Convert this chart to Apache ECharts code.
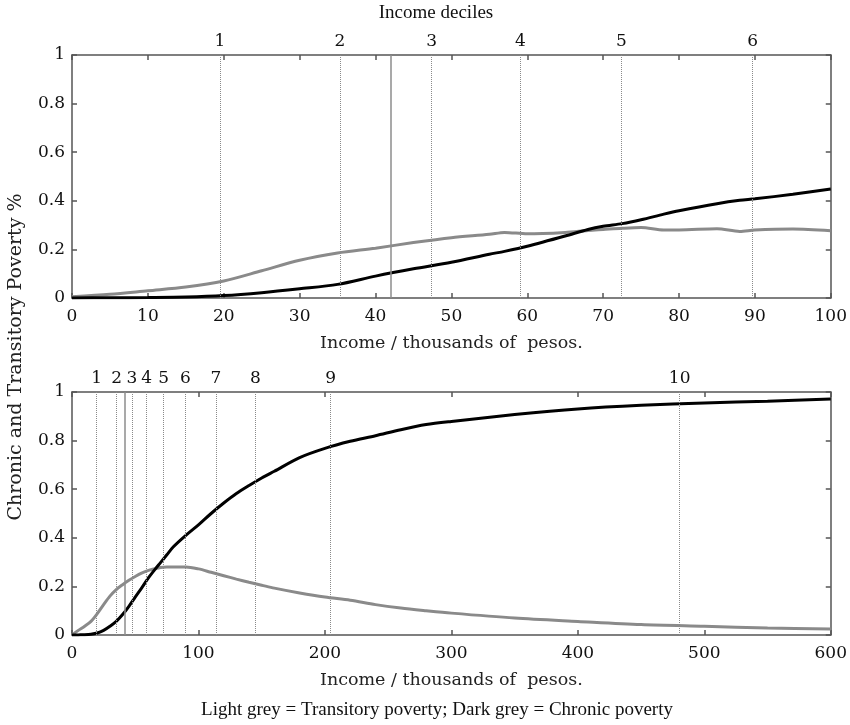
<!DOCTYPE html>
<html>
<head>
<meta charset="utf-8">
<title>Chronic and Transitory Poverty</title>
<script src="https://cdn.jsdelivr.net/npm/echarts@6/dist/echarts.min.js"></script>
<style>
    html, body { margin: 0; padding: 0; background: #ffffff; }
    #chart { width: 850px; height: 725px; }
</style>
</head>
<body>
<div id="chart"></div>
<script>
// income deciles (thousands of pesos)
var decileNames = ['1', '2', '3', '4', '5', '6', '7', '8', '9', '10'];
var decileCuts = [19.5, 35.3, 47.4, 59.1, 72.4, 89.7, 113.7, 145, 204.5, 480.5];
var povertyLine = 42;

// top panel: income 0-100
var topIncome = [0, 5, 10, 15, 20, 25, 30, 35, 40, 45, 50, 55, 57, 60, 65, 68, 70, 72.5, 75, 78, 80, 85, 88, 90, 95, 100];
var topTransitory = [0.005, 0.015, 0.03, 0.045, 0.07, 0.112, 0.155, 0.185, 0.205, 0.228, 0.248, 0.262, 0.27, 0.264, 0.27, 0.278, 0.282, 0.287, 0.29, 0.28, 0.28, 0.285, 0.274, 0.28, 0.284, 0.277];
var topChronic = [0, 0.001, 0.002, 0.004, 0.01, 0.022, 0.038, 0.056, 0.09, 0.12, 0.147, 0.18, 0.192, 0.213, 0.255, 0.282, 0.295, 0.306, 0.322, 0.345, 0.359, 0.388, 0.402, 0.408, 0.427, 0.449];

// bottom panel: income 0-600
var botIncome = [0, 5, 10, 15, 20, 25, 30, 35, 40, 45, 50, 55, 60, 65, 70, 75, 80, 90, 100, 110, 120, 130, 140, 150, 160, 180, 200, 220, 240, 260, 280, 300, 350, 400, 450, 500, 550, 600];
var botTransitory = [0, 0.019, 0.036, 0.056, 0.088, 0.125, 0.16, 0.187, 0.207, 0.225, 0.241, 0.255, 0.265, 0.272, 0.278, 0.28, 0.28, 0.28, 0.272, 0.258, 0.244, 0.23, 0.217, 0.205, 0.193, 0.173, 0.156, 0.143, 0.125, 0.111, 0.1, 0.09, 0.07, 0.056, 0.043, 0.036, 0.029, 0.025];
var botChronic = [0, 0.0005, 0.001, 0.003, 0.008, 0.019, 0.036, 0.056, 0.084, 0.118, 0.156, 0.193, 0.232, 0.266, 0.298, 0.33, 0.362, 0.41, 0.453, 0.5, 0.543, 0.582, 0.615, 0.646, 0.674, 0.73, 0.768, 0.797, 0.82, 0.845, 0.866, 0.879, 0.907, 0.93, 0.945, 0.955, 0.962, 0.971];

var serif = 'DejaVu Serif';
var frame = '#555555';

function pairs(xs, ys) {
    return xs.map(function (x, i) { return [x, ys[i]]; });
}

// dotted decile lines (with numbers on top) + solid poverty line
function markLines(maxX) {
    var data = [];
    decileCuts.forEach(function (c, i) {
        if (c <= maxX) data.push({ name: decileNames[i], xAxis: c });
    });
    data.push({
        xAxis: povertyLine,
        label: { show: false },
        lineStyle: { type: 'solid', color: '#8c8c8c', width: 1.5 }
    });
    return {
        silent: true,
        symbol: 'none',
        animation: false,
        lineStyle: { type: 'dotted', color: '#8a8a8a', width: 1 },
        label: {
            show: true, position: 'end', formatter: '{b}', distance: 5,
            fontFamily: serif, fontSize: 17, color: '#111'
        },
        data: data
    };
}

function xAxes(grid, max, interval) {
    var base = {
        type: 'value', gridIndex: grid, min: 0, max: max, interval: interval,
        splitLine: { show: false },
        axisLine: { show: true, onZero: false, lineStyle: { color: frame, width: 1.5 } },
        axisTick: { show: true, inside: true, length: 5, lineStyle: { color: frame, width: 1.5 } }
    };
    return [
        Object.assign({}, base, {
            position: 'bottom',
            name: 'Income / thousands of  pesos.',
            nameLocation: 'middle', nameGap: 36,
            nameTextStyle: { fontFamily: serif, fontSize: 17.5, color: '#222' },
            axisLabel: { fontFamily: serif, fontSize: 17, color: '#111', margin: 10 }
        }),
        Object.assign({}, base, {
            position: 'top',
            axisLabel: { show: false }
        })
    ];
}

function yAxes(grid) {
    var base = {
        type: 'value', gridIndex: grid, min: 0, max: 1, interval: 0.2,
        splitLine: { show: false },
        axisLine: { show: true, onZero: false, lineStyle: { color: frame, width: 1.5 } },
        axisTick: { show: true, inside: true, length: 5, lineStyle: { color: frame, width: 1.5 } }
    };
    return [
        Object.assign({}, base, {
            position: 'left',
            axisLabel: { fontFamily: serif, fontSize: 17, color: '#111', margin: 7 }
        }),
        Object.assign({}, base, {
            position: 'right',
            axisLabel: { show: false }
        })
    ];
}

var xs = xAxes(0, 100, 10).concat(xAxes(1, 600, 100));
var ys = yAxes(0).concat(yAxes(1));

var chart = echarts.init(document.getElementById('chart'));
chart.setOption({
    animation: false,
    backgroundColor: '#ffffff',
    grid: [
        { left: 72, right: 18, top: 55, height: 243 },
        { left: 72, right: 18, top: 392, height: 243 }
    ],
    xAxis: xs,
    yAxis: ys,
    graphic: [
        {
            type: 'text', x: 436, y: 13,
            style: {
                text: 'Income deciles', font: '19px "Liberation Serif"', fill: '#111',
                align: 'center', verticalAlign: 'middle'
            }
        },
        {
            type: 'text', x: 16, y: 357, rotation: Math.PI / 2,
            style: {
                text: 'Chronic and Transitory Poverty %', font: '19px "DejaVu Serif"',
                fill: '#222', align: 'center', verticalAlign: 'middle'
            }
        },
        {
            type: 'text', x: 437, y: 710,
            style: {
                text: 'Light grey = Transitory poverty; Dark grey = Chronic poverty',
                font: '19px "Liberation Serif"', fill: '#111',
                align: 'center', verticalAlign: 'middle'
            }
        }
    ],
    series: [
        {
            type: 'line', xAxisIndex: 0, yAxisIndex: 0, showSymbol: false, smooth: 0.3,
            lineStyle: { color: '#8a8a8a', width: 3 },
            data: pairs(topIncome, topTransitory),
            markLine: markLines(100)
        },
        {
            type: 'line', xAxisIndex: 0, yAxisIndex: 0, showSymbol: false, smooth: 0.3,
            lineStyle: { color: '#000000', width: 3 },
            data: pairs(topIncome, topChronic)
        },
        {
            type: 'line', xAxisIndex: 2, yAxisIndex: 2, showSymbol: false, smooth: 0.3,
            lineStyle: { color: '#8a8a8a', width: 3 },
            data: pairs(botIncome, botTransitory),
            markLine: markLines(600)
        },
        {
            type: 'line', xAxisIndex: 2, yAxisIndex: 2, showSymbol: false, smooth: 0.3,
            lineStyle: { color: '#000000', width: 3 },
            data: pairs(botIncome, botChronic)
        }
    ]
});

window.onresize = function () {
    chart.resize();
};
</script>
</body>
</html>
